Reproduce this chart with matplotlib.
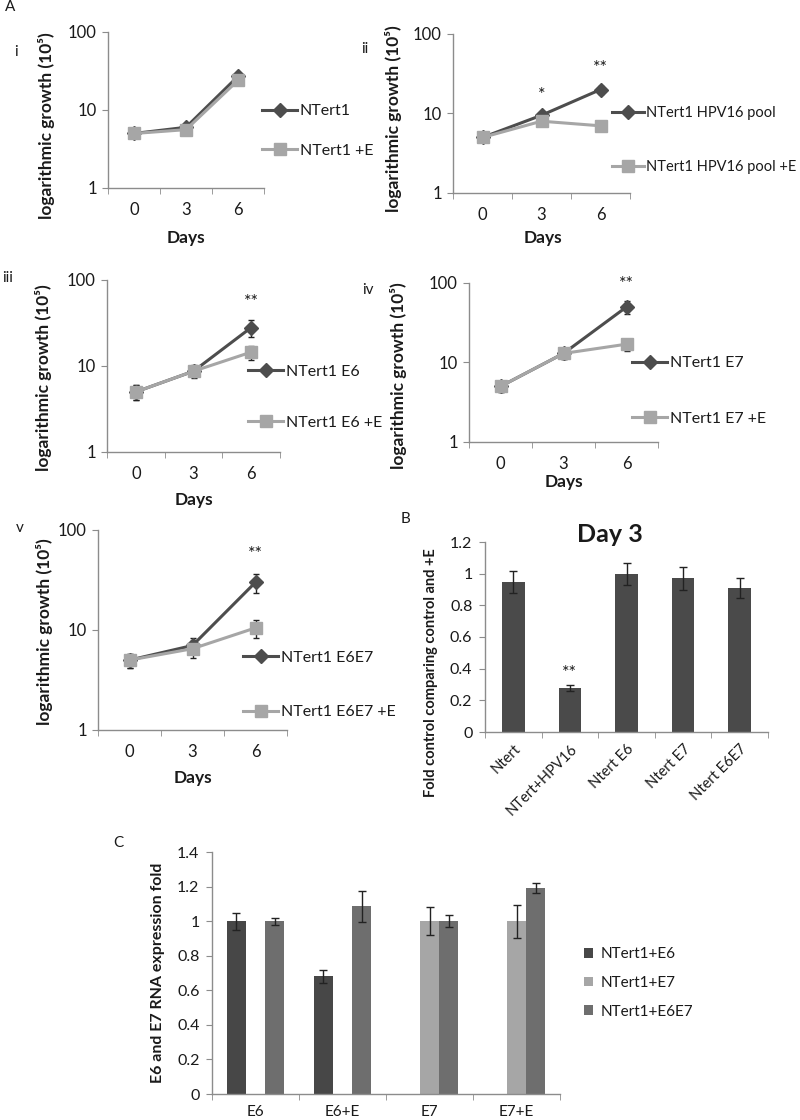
import matplotlib
matplotlib.use("Agg")
import matplotlib.pyplot as plt
from matplotlib.ticker import FixedLocator, NullLocator, FixedFormatter
import numpy as np

plt.rcParams['font.family'] = ['Lato', 'DejaVu Sans']

W, H = 800, 1120

# ---------------- data ----------------
days = ['0', '3', '6']

i_labels = ['NTert1', 'NTert1 +E']
i_ctrl = [5.0, 6.0, 27.0]
i_ctrl_err = [0.3, 0.4, 1.5]
i_treat = [5.0, 5.6, 24.0]
i_treat_err = [0.3, 0.3, 1.5]

ii_labels = ['NTert1 HPV16 pool', 'NTert1 HPV16 pool +E']
ii_ctrl = [5.0, 9.5, 20.0]
ii_ctrl_err = [0.3, 0.8, 2.5]
ii_treat = [5.0, 8.0, 7.0]
ii_treat_err = [0.3, 0.6, 0.5]
ii_stars = ['', '*', '**']

iii_labels = ['NTert1 E6', 'NTert1 E6 +E']
iii_ctrl = [5.0, 8.7, 28.0]
iii_ctrl_err = [1.0, 1.3, 6.0]
iii_treat = [5.0, 8.7, 14.5]
iii_treat_err = [1.0, 1.5, 2.8]
iii_stars = ['', '', '**']

iv_labels = ['NTert1 E7', 'NTert1 E7 +E']
iv_ctrl = [5.0, 13.0, 50.0]
iv_ctrl_err = [0.8, 2.0, 9.0]
iv_treat = [5.0, 13.0, 17.0]
iv_treat_err = [0.8, 2.0, 3.0]
iv_stars = ['', '', '**']

v_labels = ['NTert1 E6E7', 'NTert1 E6E7 +E']
v_ctrl = [5.0, 7.0, 30.0]
v_ctrl_err = [0.8, 1.3, 6.5]
v_treat = [5.0, 6.5, 10.5]
v_treat_err = [0.8, 1.2, 2.2]
v_stars = ['', '', '**']

b_categories = ['Ntert', 'NTert+HPV16', 'Ntert E6', 'Ntert E7', 'Ntert E6E7']
b_values = [0.945, 0.28, 1.0, 0.97, 0.91]
b_err = [0.07, 0.02, 0.07, 0.07, 0.065]
b_stars = ['', '**', '', '', '']

c_categories = ['E6', 'E6+E', 'E7', 'E7+E']
c_series = ['NTert1+E6', 'NTert1+E7', 'NTert1+E6E7']
c_e6 = [1.0, 0.68, 0.0, 0.0]
c_e6_err = [0.05, 0.04, 0.0, 0.0]
c_e7 = [0.0, 0.0, 1.0, 1.0]
c_e7_err = [0.0, 0.0, 0.08, 0.095]
c_e6e7 = [1.0, 1.085, 1.0, 1.19]
c_e6e7_err = [0.02, 0.09, 0.035, 0.03]

# ---------------- styles ----------------
DARK = '#4d4d4d'
LIGHT = '#a6a6a6'
SPINE = '#8c8c8c'
TXT = '#1a1a1a'

fig = plt.figure(figsize=(W / 100, H / 100), dpi=100)


def px_axes(left, top, right, bottom):
    return fig.add_axes([left / W, 1 - bottom / H, (right - left) / W, (bottom - top) / H])


def style_axes(ax):
    for s in ['top', 'right']:
        ax.spines[s].set_visible(False)
    for s in ['left', 'bottom']:
        ax.spines[s].set_color(SPINE)
        ax.spines[s].set_linewidth(1.0)


def line_panel(rect, ctrl, ctrl_err, treat, treat_err, labels, stars,
               leg_xy, leg_spacing, ylab_xy, xlab_xy, leg_fs=11.5):
    ax = px_axes(*rect)
    style_axes(ax)
    x = np.arange(len(days))
    ax.errorbar(x, ctrl, yerr=ctrl_err, fmt='none', ecolor='#222222', elinewidth=1,
                capsize=2.5, zorder=2)
    ax.plot(x, ctrl, color=DARK, lw=2.2, marker='D', ms=7, label=labels[0], zorder=3)
    ax.errorbar(x, treat, yerr=treat_err, fmt='none', ecolor='#222222', elinewidth=1,
                capsize=2.5, zorder=2)
    ax.plot(x, treat, color=LIGHT, lw=2.2, marker='s', ms=9, label=labels[1], zorder=4)
    ax.set_yscale('log')
    ax.set_ylim(1, 100)
    ax.yaxis.set_major_locator(FixedLocator([1, 10, 100]))
    ax.yaxis.set_major_formatter(FixedFormatter(['1', '10', '100']))
    ax.yaxis.set_minor_locator(NullLocator())
    ax.set_xlim(-0.5, len(days) - 0.5)
    ax.set_xticks(x)
    ax.set_xticklabels(days)
    ax.set_xticks(np.arange(len(days) + 1) - 0.5, minor=True)
    ax.tick_params(axis='x', which='major', length=0, pad=10, labelsize=12, colors=TXT)
    ax.tick_params(axis='x', which='minor', length=4, color=SPINE, direction='out')
    ax.tick_params(axis='y', which='major', length=4, color=SPINE, pad=4, labelsize=12,
                   labelcolor=TXT)
    for xi, s in enumerate(stars):
        if s:
            top = ctrl[xi] + ctrl_err[xi]
            ax.text(xi, top * 1.3, s, ha='center', va='bottom', fontsize=13, color=TXT)
    ax.set_ylabel('logarithmic growth (10⁵)', fontsize=12.5, fontweight='bold', color=TXT)
    ax.yaxis.set_label_coords(*ylab_xy)
    ax.set_xlabel('Days', fontsize=12.5, fontweight='bold', color=TXT)
    ax.xaxis.set_label_coords(*xlab_xy)
    leg = ax.legend(loc='center left', bbox_to_anchor=(leg_xy[0] / W, 1 - leg_xy[1] / H),
                    bbox_transform=fig.transFigure, frameon=False, fontsize=leg_fs,
                    labelspacing=leg_spacing, handlelength=2.2, handletextpad=0.15,
                    borderaxespad=0, borderpad=0, numpoints=1)
    for t in leg.get_texts():
        t.set_color(TXT)
    return ax


# Panel i
line_panel((108, 32, 264, 188), i_ctrl, i_ctrl_err, i_treat, i_treat_err, i_labels,
           ['', '', ''], (262, 131), 1.6, (-0.34, 0.40), (0.5, -0.27))
# Panel ii
line_panel((453, 34, 630, 193), ii_ctrl, ii_ctrl_err, ii_treat, ii_treat_err, ii_labels,
           ii_stars, (612, 140), 2.75, (-0.29, 0.47), (0.51, -0.235), leg_fs=10.5)
# Panel iii
line_panel((107, 280, 280, 452), iii_ctrl, iii_ctrl_err, iii_treat, iii_treat_err, iii_labels,
           iii_stars, (248, 397), 2.3, (-0.32, 0.43), (0.5, -0.23))
# Panel iv
line_panel((469, 283, 658, 442), iv_ctrl, iv_ctrl_err, iv_treat, iv_treat_err, iv_labels,
           iv_stars, (632, 391), 2.6, (-0.33, 0.415), (0.5, -0.20))
# Panel v
line_panel((98, 530, 287, 730), v_ctrl, v_ctrl_err, v_treat, v_treat_err, v_labels,
           v_stars, (243, 685), 2.5, (-0.24, 0.49), (0.5, -0.20))

# ---------------- Panel B ----------------
axb = px_axes(485, 542, 768, 732)
style_axes(axb)
xb = np.arange(len(b_categories))
axb.bar(xb, b_values, width=0.4, color='#4a4a4a', zorder=2)
axb.errorbar(xb, b_values, yerr=b_err, fmt='none', ecolor='#222222', elinewidth=1,
             capsize=3, zorder=3)
for xi, s in enumerate(b_stars):
    if s:
        axb.text(xi, b_values[xi] + b_err[xi] + 0.02, s, ha='center', va='bottom',
                 fontsize=13, color=TXT)
axb.set_ylim(0, 1.2)
axb.set_yticks([0, 0.2, 0.4, 0.6, 0.8, 1.0, 1.2])
axb.set_yticklabels(['0', '0.2', '0.4', '0.6', '0.8', '1', '1.2'])
axb.set_xlim(-0.5, len(b_categories) - 0.5)
axb.set_xticks(xb)
axb.set_xticklabels(b_categories, rotation=45, ha='right', rotation_mode='anchor')
axb.set_xticks(np.arange(len(b_categories) + 1) - 0.5, minor=True)
axb.tick_params(axis='x', which='major', length=0, pad=7, labelsize=10.5, colors=TXT)
axb.tick_params(axis='x', which='minor', length=4, color=SPINE)
axb.tick_params(axis='y', length=4, color=SPINE, pad=5, labelsize=11.5, labelcolor=TXT)
axb.set_ylabel('Fold control comparing control and +E', fontsize=10.5, fontweight='bold',
               color=TXT)
axb.yaxis.set_label_coords(-0.166, 0.31)
fig.text(610 / W, 1 - 535 / H, 'Day 3', ha='center', va='center', fontsize=18,
         fontweight='bold', color=TXT)

# ---------------- Panel C ----------------
axc = px_axes(212, 852, 560, 1094)
style_axes(axc)
xc = np.arange(len(c_categories))
w = 0.22
c_colors = ['#474747', '#a6a6a6', '#6e6e6e']
for k, (vals, errs, name, col) in enumerate(zip([c_e6, c_e7, c_e6e7],
                                                [c_e6_err, c_e7_err, c_e6e7_err],
                                                c_series, c_colors)):
    pos = xc + (k - 1) * w
    axc.bar(pos, vals, width=w, color=col, label=name, zorder=2)
    mask = np.array(vals) > 0
    axc.errorbar(pos[mask], np.array(vals)[mask], yerr=np.array(errs)[mask], fmt='none',
                 ecolor='#222222', elinewidth=1, capsize=3, zorder=3)
axc.set_ylim(0, 1.4)
axc.set_yticks([0, 0.2, 0.4, 0.6, 0.8, 1.0, 1.2, 1.4])
axc.set_yticklabels(['0', '0.2', '0.4', '0.6', '0.8', '1', '1.2', '1.4'])
axc.set_xlim(-0.5, len(c_categories) - 0.5)
axc.set_xticks(xc)
axc.set_xticklabels(c_categories)
axc.set_xticks(np.arange(len(c_categories) + 1) - 0.5, minor=True)
axc.tick_params(axis='x', which='major', length=0, pad=8, labelsize=11, colors=TXT)
axc.tick_params(axis='x', which='minor', length=4, color=SPINE)
axc.tick_params(axis='y', length=4, color=SPINE, pad=5, labelsize=11.5, labelcolor=TXT)
axc.set_ylabel('E6 and E7 RNA expression fold', fontsize=11.5, fontweight='bold', color=TXT)
axc.yaxis.set_label_coords(-0.135, 0.5)
legc = axc.legend(loc='center left', bbox_to_anchor=(584 / W, 1 - 983 / H),
                  bbox_transform=fig.transFigure, frameon=False, fontsize=11,
                  labelspacing=0.95, handlelength=0.6, handleheight=0.6, handletextpad=0.5,
                  borderaxespad=0, borderpad=0)
for t in legc.get_texts():
    t.set_color(TXT)

# ---------------- panel letters ----------------
for txt, (px, py) in [('A', (10, 7)), ('i', (16, 52)), ('ii', (365, 49)), ('iii', (8, 278)),
                      ('iv', (368, 290)), ('v', (20, 528)), ('B', (406, 519)),
                      ('C', (118, 843))]:
    fig.text(px / W, 1 - py / H, txt, ha='center', va='center', fontsize=11, color=TXT)

fig.savefig('out.png', dpi=100)
